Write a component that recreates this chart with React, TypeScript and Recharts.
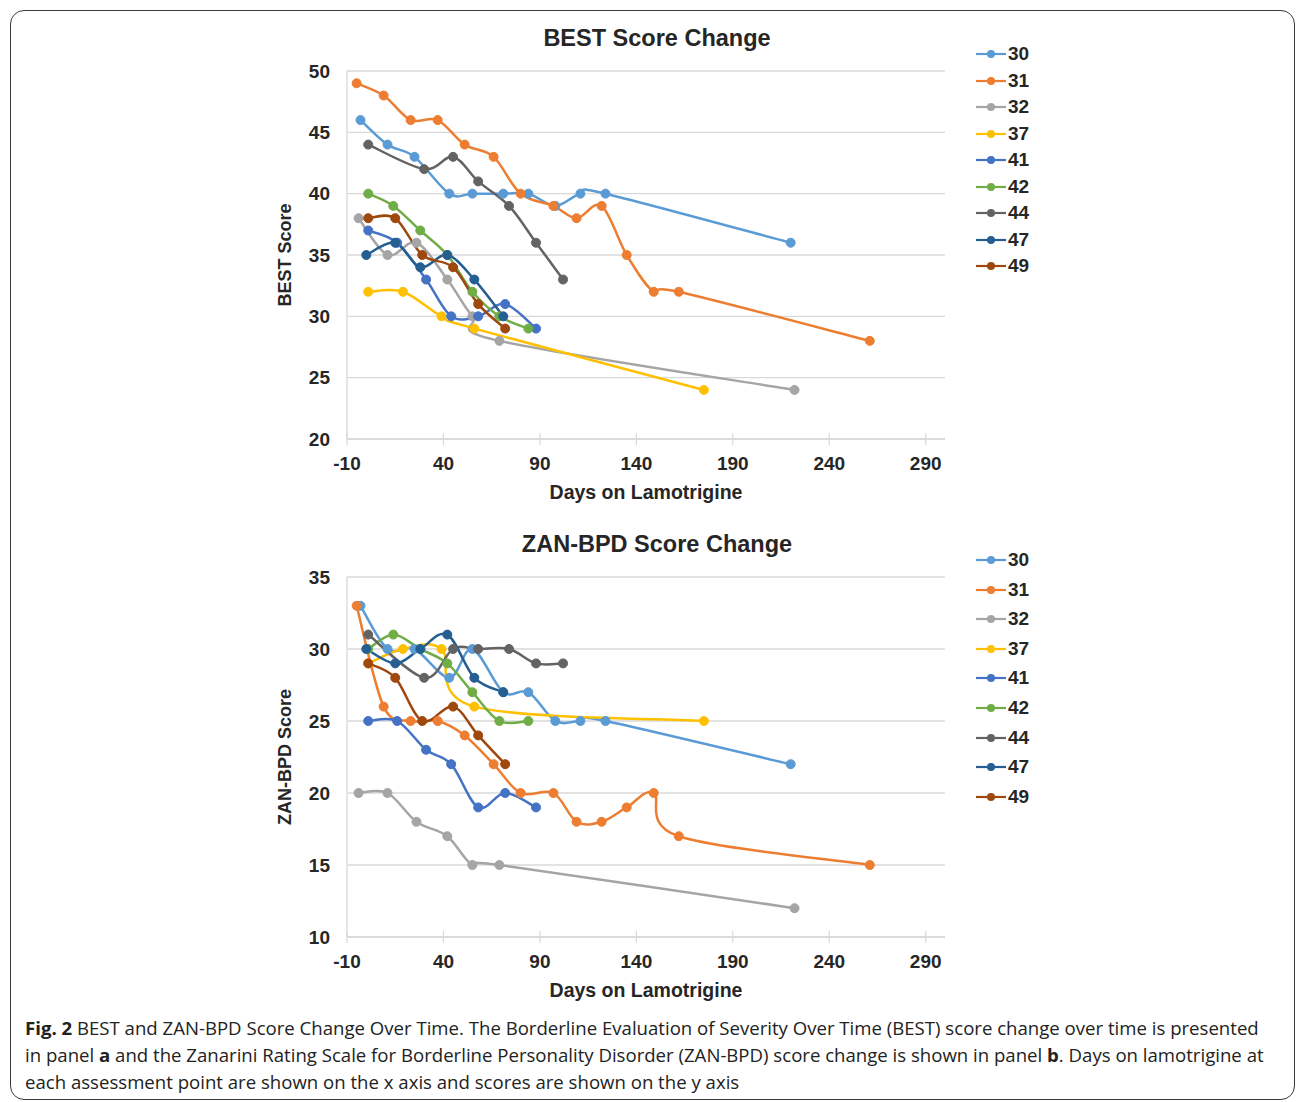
import { CartesianGrid, Legend, Line, LineChart, XAxis, YAxis } from "recharts"

// days on lamotrigine at each assessment, per patient
const days30 = [-3, 11, 25, 43, 55, 71, 84, 98, 111, 124, 220]
const days31 = [-5, 9, 23, 37, 51, 66, 80, 97, 109, 122, 135, 149, 162, 261]
const days32 = [-4, 11, 26, 42, 55, 69, 222]
const days37 = [1, 19, 39, 56, 175]
const days41 = [1, 16, 31, 44, 58, 72, 88]
const days42 = [1, 14, 28, 42, 55, 69, 84]
const days44 = [1, 30, 45, 58, 74, 88, 102]
const days47 = [0, 15, 28, 42, 56, 71]
const days49 = [1, 15, 29, 45, 58, 72]

// BEST scores
const best30 = [46, 44, 43, 40, 40, 40, 40, 39, 40, 40, 36]
const best31 = [49, 48, 46, 46, 44, 43, 40, 39, 38, 39, 35, 32, 32, 28]
const best32 = [38, 35, 36, 33, 30, 28, 24]
const best37 = [32, 32, 30, 29, 24]
const best41 = [37, 36, 33, 30, 30, 31, 29]
const best42 = [40, 39, 37, 35, 32, 30, 29]
const best44 = [44, 42, 43, 41, 39, 36, 33]
const best47 = [35, 36, 34, 35, 33, 30]
const best49 = [38, 38, 35, 34, 31, 29]

// ZAN-BPD scores
const zan30 = [33, 30, 30, 28, 30, 27, 27, 25, 25, 25, 22]
const zan31 = [33, 26, 25, 25, 24, 22, 20, 20, 18, 18, 19, 20, 17, 15]
const zan32 = [20, 20, 18, 17, 15, 15, 12]
const zan37 = [29, 30, 30, 26, 25]
const zan41 = [25, 25, 23, 22, 19, 20, 19]
const zan42 = [30, 31, 30, 29, 27, 25, 25]
const zan44 = [31, 28, 30, 30, 30, 29, 29]
const zan47 = [30, 29, 30, 31, 28, 27]
const zan49 = [29, 28, 25, 26, 24, 22]

const xTicks = [-10, 40, 90, 140, 190, 240, 290]
const bestTicks = [20, 25, 30, 35, 40, 45, 50]
const zanTicks = [10, 15, 20, 25, 30, 35]

const patients = ["30", "31", "32", "37", "41", "42", "44", "47", "49"]
const colors = ["#5B9BD5", "#ED7D31", "#A5A5A5", "#FFC000", "#4472C4", "#70AD47", "#636363", "#255E91", "#9E480E"]
const allDays = [days30, days31, days32, days37, days41, days42, days44, days47, days49]
const bestScores = [best30, best31, best32, best37, best41, best42, best44, best47, best49]
const zanScores = [zan30, zan31, zan32, zan37, zan41, zan42, zan44, zan47, zan49]

const FONT = "'Liberation Sans', Arial, sans-serif"
const TEXT = "#262626"
const GRID = "#D9D9D9"

const toPoints = (d: number[], s: number[]) => d.map((day, i) => ({ day, score: s[i] }))

// Excel-style smoothed line: Catmull-Rom bezier with 1/6 tangents
const excelSmooth = (context: any) => {
  let pts: number[][] = []
  return {
    areaStart() {},
    areaEnd() {},
    lineStart() {
      pts = []
    },
    point(x: number, y: number) {
      pts.push([+x, +y])
    },
    lineEnd() {
      if (!pts.length) return
      context.moveTo(pts[0][0], pts[0][1])
      for (let i = 0; i < pts.length - 1; i++) {
        const p0 = pts[Math.max(i - 1, 0)]
        const p1 = pts[i]
        const p2 = pts[i + 1]
        const p3 = pts[Math.min(i + 2, pts.length - 1)]
        context.bezierCurveTo(
          p1[0] + (p2[0] - p0[0]) / 6,
          p1[1] + (p2[1] - p0[1]) / 6,
          p2[0] - (p3[0] - p1[0]) / 6,
          p2[1] - (p3[1] - p1[1]) / 6,
          p2[0],
          p2[1]
        )
      }
    },
  }
}

// x tick with a small mark crossing the axis line, like Excel
const XTick = ({ x, y, payload }: any) => (
  <g>
    <line x1={x} x2={x} y1={y - 24} y2={y - 12} stroke={GRID} strokeWidth={1.2} />
    <text x={x} y={y} dy={13} textAnchor="middle" fontSize={19} fontWeight="bold" fontFamily={FONT} fill={TEXT}>
      {payload.value}
    </text>
  </g>
)

const makeLegend = (rowHeight: number) => (props: any) => (
  <div>
    {(props.payload || []).map((p: any) => (
      <div key={p.value} style={{ height: rowHeight, display: "flex", alignItems: "center" }}>
        <svg width={30} height={10}>
          <line x1={0} x2={30} y1={5} y2={5} stroke={p.color} strokeWidth={2.2} />
          <circle cx={15} cy={5} r={4} fill={p.color} />
        </svg>
        <span style={{ marginLeft: 2, fontFamily: FONT, fontWeight: "bold", fontSize: 19, color: TEXT }}>{p.value}</span>
      </div>
    ))}
  </div>
)

interface PanelProps {
  top: number
  height: number
  bottom: number
  title: string
  yLabel: string
  yDomain: [number, number]
  yTicks: number[]
  scores: number[][]
  legendRow: number
}

function Panel({ top, height, bottom, title, yLabel, yDomain, yTicks, scores, legendRow }: PanelProps) {
  return (
    <div style={{ position: "absolute", left: 0, top, width: 1296, height }}>
      <div
        style={{
          position: "absolute",
          left: 457,
          top: 24,
          width: 400,
          textAlign: "center",
          fontFamily: FONT,
          fontWeight: "bold",
          fontSize: 23.5,
          lineHeight: "28px",
          color: TEXT,
        }}
      >
        {title}
      </div>
      <LineChart width={1296} height={height} margin={{ top: 71, right: 351, left: 277, bottom }}>
        <CartesianGrid vertical={false} stroke={GRID} strokeWidth={1.3} />
        <XAxis
          type="number"
          dataKey="day"
          domain={[-10, 300]}
          ticks={xTicks}
          allowDataOverflow
          height={60}
          tickSize={0}
          tickMargin={18}
          tick={<XTick />}
          axisLine={{ stroke: GRID, strokeWidth: 1.3 }}
          tickLine={false}
          label={{
            value: "Days on Lamotrigine",
            position: "insideBottom",
            offset: 0,
            style: { fontFamily: FONT, fontWeight: "bold", fontSize: 19.5, fill: TEXT },
          }}
        />
        <YAxis
          type="number"
          domain={yDomain}
          ticks={yTicks}
          width={70}
          tickLine={false}
          tickMargin={11}
          axisLine={{ stroke: GRID, strokeWidth: 1.3 }}
          tick={{ fontSize: 19, fontWeight: "bold", fontFamily: FONT, fill: TEXT }}
          label={{
            value: yLabel,
            angle: -90,
            position: "insideLeft",
            offset: 8,
            style: { textAnchor: "middle", fontFamily: FONT, fontWeight: "bold", fontSize: 18, fill: TEXT },
          }}
        />
        <Legend
          layout="vertical"
          align="center"
          verticalAlign="middle"
          wrapperStyle={{ left: 976, top: 54 - legendRow / 2, width: 80 }}
          content={makeLegend(legendRow)}
        />
        {patients.map((p, i) => (
          <Line
            key={p}
            name={p}
            data={toPoints(allDays[i], scores[i])}
            dataKey="score"
            type={excelSmooth as any}
            stroke={colors[i]}
            strokeWidth={2.5}
            dot={{ r: 4.5, fill: colors[i], stroke: colors[i], strokeWidth: 1 }}
            activeDot={false}
            isAnimationActive={false}
          />
        ))}
      </LineChart>
    </div>
  )
}

export default function App() {
  return (
    <div style={{ position: "absolute", left: 0, top: 0, width: 1296, height: 1102, background: "#fff" }}>
      <div
        style={{
          position: "absolute",
          left: 10,
          top: 10,
          width: 1283,
          height: 1088,
          border: "1.5px solid #3a3a3a",
          borderRadius: 14,
        }}
      />
      <Panel
        top={0}
        height={520}
        bottom={21}
        title="BEST Score Change"
        yLabel="BEST Score"
        yDomain={[20, 50]}
        yTicks={bestTicks}
        scores={bestScores}
        legendRow={26.5}
      />
      <Panel
        top={506}
        height={510}
        bottom={19}
        title="ZAN-BPD Score Change"
        yLabel="ZAN-BPD Score"
        yDomain={[10, 35]}
        yTicks={zanTicks}
        scores={zanScores}
        legendRow={29.6}
      />
      <div
        style={{
          position: "absolute",
          left: 25,
          top: 1014,
          fontFamily: "'Open Sans', sans-serif",
          fontSize: 18.6,
          lineHeight: "27px",
          color: "#222",
          whiteSpace: "nowrap",
        }}
      >
        <div>
          <b>Fig. 2</b> BEST and ZAN-BPD Score Change Over Time. The Borderline Evaluation of Severity Over Time (BEST) score change over time is presented
        </div>
        <div>
          in panel <b>a</b> and the Zanarini Rating Scale for Borderline Personality Disorder (ZAN-BPD) score change is shown in panel <b>b</b>. Days on lamotrigine at
        </div>
        <div>each assessment point are shown on the x axis and scores are shown on the y axis</div>
      </div>
    </div>
  )
}
